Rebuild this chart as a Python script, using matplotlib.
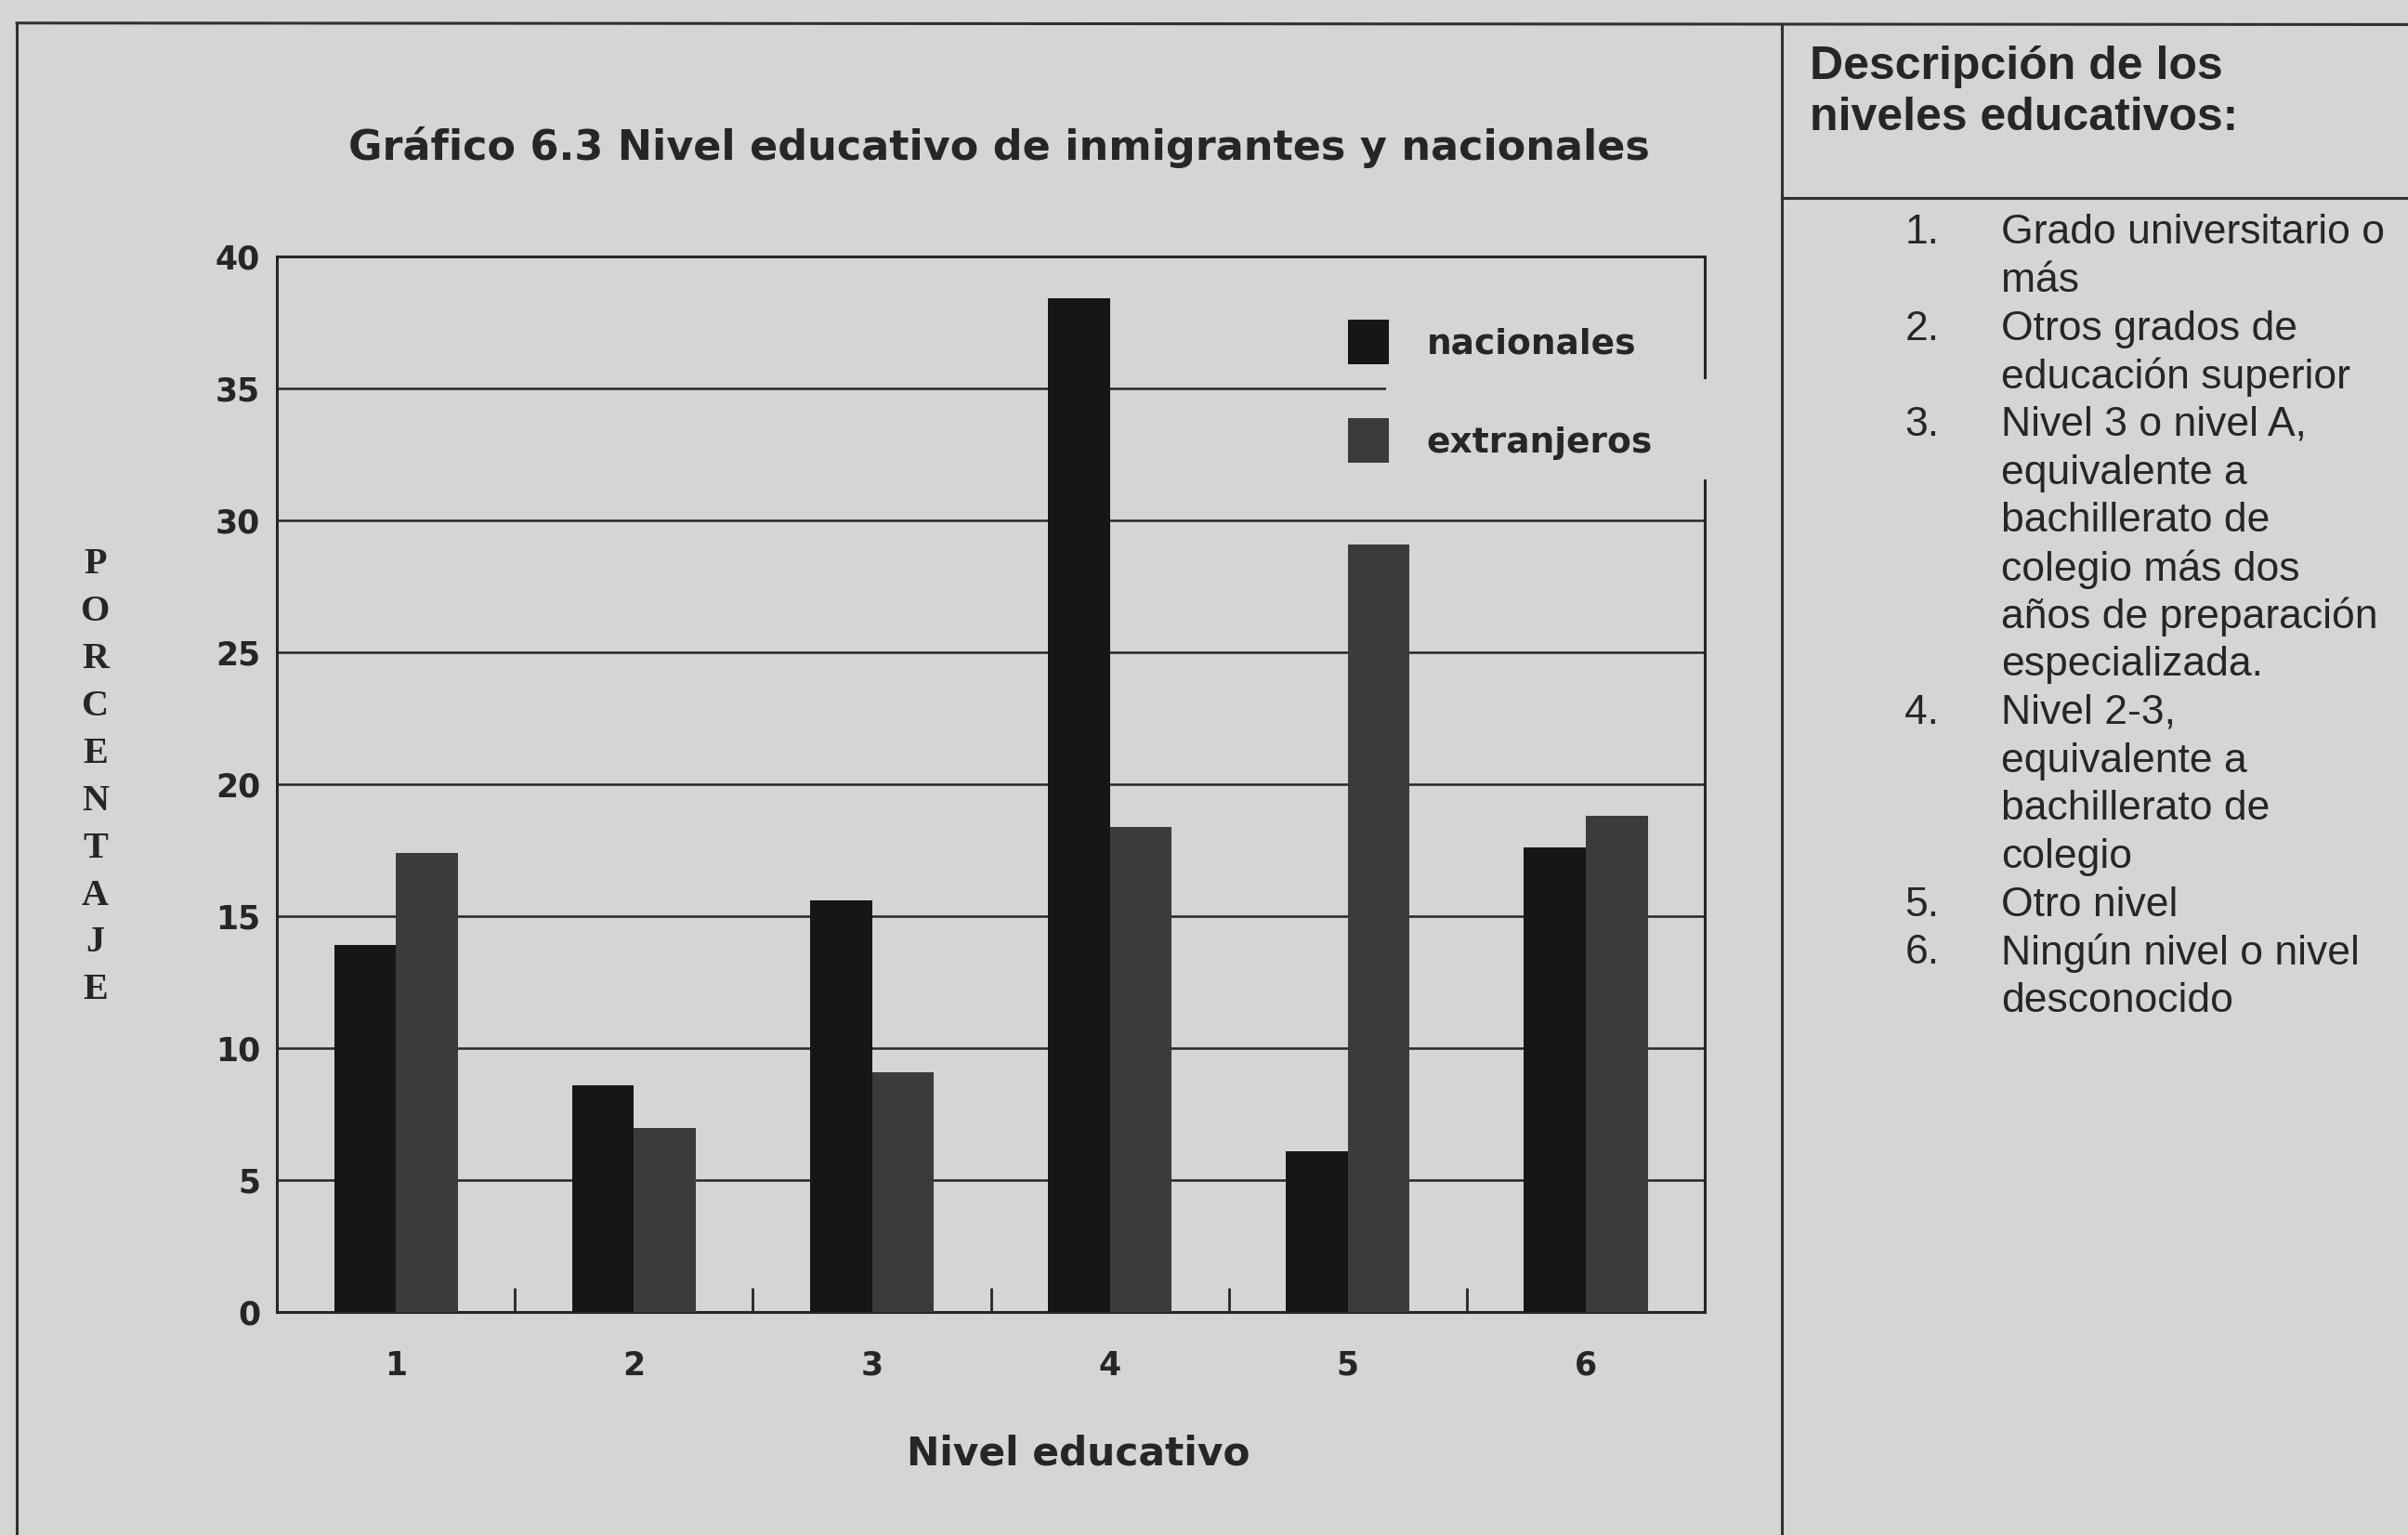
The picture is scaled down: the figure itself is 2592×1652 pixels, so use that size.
#!/usr/bin/env python

import matplotlib
matplotlib.use("Agg")
import matplotlib.pyplot as plt
from matplotlib.lines import Line2D
from matplotlib.patches import Rectangle
import numpy as np

# porcentaje por nivel educativo
niveles = ["1", "2", "3", "4", "5", "6"]
nacionales = [13.9, 8.6, 15.6, 38.4, 6.1, 17.6]
extranjeros = [17.4, 7.0, 9.1, 18.4, 29.1, 18.8]
series_labels = ["nacionales", "extranjeros"]

titulo = "Gráfico 6.3 Nivel educativo de inmigrantes y nacionales"
eje_x = "Nivel educativo"
eje_y = "PORCENTAJE"

panel_titulo = ["Descripción de los", "niveles educativos:"]
descripciones = [
    ("1.", ["Grado universitario o", "más"]),
    ("2.", ["Otros grados de", "educación superior"]),
    ("3.", ["Nivel 3 o nivel A,", "equivalente a", "bachillerato de",
            "colegio más dos", "años de preparación", "especializada."]),
    ("4.", ["Nivel 2-3,", "equivalente a", "bachillerato de", "colegio"]),
    ("5.", ["Otro nivel"]),
    ("6.", ["Ningún nivel o nivel", "desconocido"]),
]

bg = "#d5d5d3"
ink = "#262626"
col_nac = "#161616"
col_ext = "#3b3b3b"

fig = plt.figure(figsize=(25.92, 16.52), dpi=100, facecolor=bg)
ax = fig.add_axes([0.115, 0.145, 0.593, 0.688], facecolor=bg)

x = np.arange(1, len(niveles) + 1)
w = 0.26
ax.bar(x - w / 2, nacionales, w, color=col_nac, label=series_labels[0],
       zorder=3)
ax.bar(x + w / 2, extranjeros, w, color=col_ext, label=series_labels[1],
       zorder=3)

ax.set_xlim(0.5, 6.5)
ax.set_ylim(0, 40)
ax.set_yticks(range(0, 41, 5))
ax.yaxis.grid(True, color=ink, linewidth=1.8)
ax.set_xticks(x)
ax.set_xticklabels(niveles)
ax.set_xticks(x[:-1] + 0.5, minor=True)
ax.tick_params(axis="x", which="major", length=0, pad=29, labelsize=25,
               labelcolor=ink)
ax.tick_params(axis="x", which="minor", direction="in", length=19, width=2,
               color=ink)
ax.tick_params(axis="y", length=0, pad=13, labelsize=25, labelcolor=ink)
for lab in ax.get_xticklabels() + ax.get_yticklabels():
    lab.set_fontweight("bold")
for sp in ax.spines.values():
    sp.set_linewidth(2.2)
    sp.set_color(ink)

# the legend sits on a plain patch that hides the grid and the right spine
ax.add_patch(Rectangle((0.777, 0.789), 0.25, 0.095, transform=ax.transAxes,
                       facecolor=bg, edgecolor="none", zorder=2.6,
                       clip_on=False))
leg = ax.legend(loc="upper left", bbox_to_anchor=(878 / 1568, 1 - 208 / 999),
                bbox_transform=fig.transFigure, frameon=False,
                prop={"size": 27, "weight": "bold"}, handlelength=1.15,
                handleheight=1.6, labelspacing=1.55, handletextpad=1.1,
                borderpad=0, borderaxespad=0)
for t in leg.get_texts():
    t.set_color(ink)

fig.text(0.415, 0.904, titulo, ha="center", va="center", fontsize=32,
         fontweight="bold", color=ink)
fig.text(0.4477, 0.053, eje_x, ha="center", va="center", fontsize=30.5,
         fontweight="bold", color=ink)
for i, ch in enumerate(eje_y):
    fig.text(0.0395, 0.632 - i * 0.0308, ch, ha="center", va="center",
             fontsize=29, fontweight="bold", family="Liberation Serif",
             color=ink)

# page frame and the side panel
frame = dict(color="#303030", linewidth=2.2, transform=fig.transFigure)
fig.add_artist(Line2D([0.007, 0.007], [0.0, 0.985], **frame))
fig.add_artist(Line2D([0.007, 1.0], [0.985, 0.984], **frame))
fig.add_artist(Line2D([0.7398, 0.7398], [0.0, 0.984], **frame))
fig.add_artist(Line2D([0.7398, 1.0], [0.871, 0.871], **frame))

for i, line in enumerate(panel_titulo):
    fig.text(0.7517, 0.9566 - i * 0.0336, line, ha="left", va="center",
             fontsize=36, fontweight="bold", family="Liberation Sans",
             color=ink)

y = 1 - 151.6 / 999
dy = 0.03128
for num, lines in descripciones:
    fig.text(0.791, y, num, ha="left", va="center", fontsize=32,
             family="Liberation Sans", color=ink)
    for line in lines:
        fig.text(0.831, y, line, ha="left", va="center", fontsize=32,
                 family="Liberation Sans", color=ink)
        y -= dy

plt.savefig("out.png", dpi=100, facecolor=bg)
